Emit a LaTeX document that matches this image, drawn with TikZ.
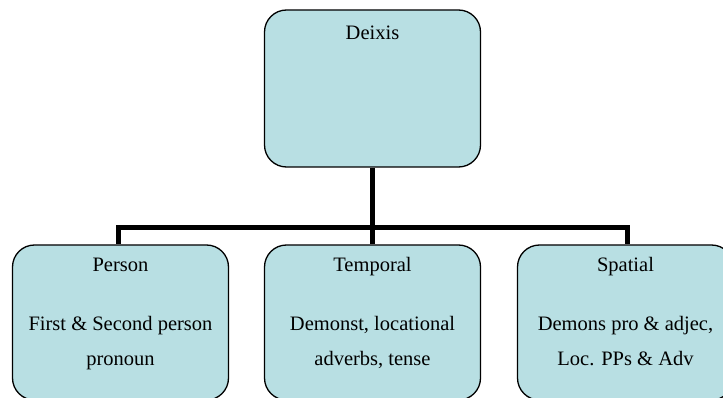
\documentclass[tikz,border=0pt]{standalone}
\usepackage{fontspec}
\setmainfont{Liberation Serif}
\usepackage{tikz}
\usetikzlibrary{arrows,shapes,calc,positioning}
\definecolor{boxfill}{RGB}{184,223,227}
\tikzstyle{catbox}=[rectangle, draw, fill=boxfill, rounded corners=22pt,
                    line width=1.3pt, minimum width=216pt, inner sep=0pt]
\tikzstyle{boxtext}=[inner sep=0pt, anchor=base,
                    font=\fontsize{20.5}{24}\selectfont]
\tikzstyle{link}=[line width=5pt, line cap=butt, line join=miter]

\begin{document}
\begin{tikzpicture}[x=1pt, y=-1pt]
                \useasboundingbox (0,0) rectangle (723,398);
                \clip (0,0) rectangle (723,398);

                \node[catbox, minimum height=157pt] (0) at (372.5,88.5) {};
                \node[catbox, minimum height=155pt] (1) at (120.5,322.5) {};
                \node[catbox, minimum height=155pt] (2) at (372.5,322.5) {};
                \node[catbox, minimum height=155pt] (3) at (625.5,322.5) {};

                \node[boxtext] (0a) at (372.5,40) {Deixis};
                \node[boxtext] (1a) at (120.5,272) {Person};
                \node[boxtext] (1b) at (120.5,330) {First \& Second person};
                \node[boxtext] (1c) at (120.5,365) {pronoun};
                \node[boxtext] (2a) at (372.5,272) {Temporal};
                \node[boxtext] (2b) at (372.5,330) {Demonst, locational};
                \node[boxtext] (2c) at (372.5,365) {adverbs, tense};
                \node[boxtext] (3a) at (625.5,272) {Spatial};
                \node[boxtext] (3b) at (625.5,330) {Demons pro \& adjec,};
                \node[boxtext] (3c) at (625.5,365) {Loc. PPs \& Adv};

                \coordinate (bar) at (372.5,228);

                \draw[link] (0.south) -- (bar);
                \draw[link] (bar) -| ([xshift=-2.5pt]1.north);
                \draw[link] (bar) -| ([xshift=1.5pt]3.north);
                \draw[link] (bar) -- (2.north);

        \end{tikzpicture}
\end{document}
